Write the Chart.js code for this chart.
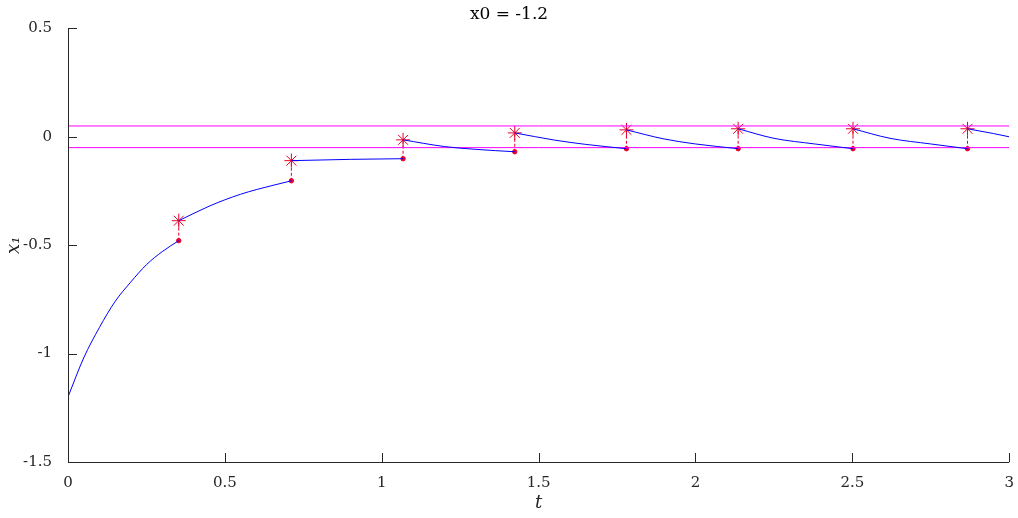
<!DOCTYPE html>
<html><head><meta charset="utf-8">
<script src="https://cdn.jsdelivr.net/npm/chart.js@4/dist/chart.umd.min.js"></script>
<style>html,body{margin:0;padding:0;background:#fff}#w{width:1018px;height:518px}</style>
</head><body><div id="w"><canvas id="c"></canvas></div>
<script>
const eventTimes = [0.353, 0.712, 1.068, 1.424, 1.780, 2.136, 2.502, 2.867];
const beforeJump = [-0.479, -0.203, -0.101, -0.069, -0.055, -0.055, -0.055, -0.055];
const afterJump  = [-0.387, -0.110, -0.014, 0.018, 0.032, 0.037, 0.037, 0.037];
const curveSegments = [
  [[0,-1.2],[0.05,-1.02],[0.1,-0.88],[0.15,-0.76],[0.2,-0.67],[0.25,-0.59],[0.3,-0.53],[0.353,-0.479]],
  [[0.353,-0.387],[0.45,-0.32],[0.55,-0.265],[0.65,-0.225],[0.712,-0.203]],
  [[0.712,-0.110],[0.9,-0.104],[1.068,-0.101]],
  [[1.068,-0.014],[1.2,-0.045],[1.3,-0.058],[1.424,-0.069]],
  [[1.424,0.018],[1.55,-0.015],[1.65,-0.035],[1.780,-0.055]],
  [[1.780,0.032],[1.9,-0.01],[2.0,-0.033],[2.136,-0.055]],
  [[2.136,0.037],[2.25,-0.007],[2.38,-0.033],[2.502,-0.055]],
  [[2.502,0.037],[2.62,-0.007],[2.75,-0.033],[2.867,-0.055]],
  [[2.867,0.037],[2.95,0.015],[3.0,0.0]]
];
const bandLevels = [0.05, -0.05];
const xTicks = [0,0.5,1,1.5,2,2.5,3];
const yTicks = [-1.5,-1,-0.5,0,0.5];

const curveData = [];
curveSegments.forEach(s => { s.forEach(p => curveData.push({x:p[0],y:p[1]})); curveData.push({x:s[s.length-1][0],y:null}); });
const stemData = [];
eventTimes.forEach((t,i)=>{ stemData.push({x:t,y:beforeJump[i]},{x:t,y:afterJump[i]},{x:t,y:null}); });

const F = "DejaVu Serif, Liberation Serif, serif";
const inwardTicks = {
  id:'inward',
  afterDraw(ch){
    const c=ch.ctx, a=ch.chartArea, xs=ch.scales.x, ys=ch.scales.y;
    c.save(); c.strokeStyle='#262626'; c.lineWidth=1;
    c.beginPath();
    c.moveTo(a.left+0.5,a.top); c.lineTo(a.left+0.5,a.bottom+0.5); c.lineTo(a.right,a.bottom+0.5);
    xTicks.forEach(v=>{const p=Math.round(xs.getPixelForValue(v))+0.5; c.moveTo(p,a.bottom); c.lineTo(p,a.bottom-9);});
    yTicks.forEach(v=>{const p=Math.round(ys.getPixelForValue(v))+0.5; c.moveTo(a.left,p); c.lineTo(a.left+9,p);});
    c.stroke(); c.restore();
  }
};

new Chart(document.getElementById('c'),{
  type:'line',
  data:{datasets:[
    {data:curveData,borderColor:'#0000ff',borderWidth:1,pointRadius:0,spanGaps:false,cubicInterpolationMode:'monotone'},
    ...bandLevels.map(v=>({data:[{x:0,y:v},{x:3,y:v}],borderColor:'#ff00ff',borderWidth:1,pointRadius:0})),
    {data:stemData,borderColor:'#e8002a',borderWidth:1,borderDash:[3,2],pointRadius:0,spanGaps:false},
    {data:eventTimes.map((t,i)=>({x:t,y:beforeJump[i]})),showLine:false,pointRadius:2.2,pointBackgroundColor:'#e8002a',pointBorderColor:'#e8002a'},
    {data:eventTimes.map((t,i)=>({x:t,y:afterJump[i]})),showLine:false,pointStyle:'star',pointRadius:7,borderWidth:1,pointBorderColor:'#e8002a',pointBackgroundColor:'#e8002a'}
  ]},
  options:{
    responsive:true,maintainAspectRatio:false,animation:false,
    layout:{padding:{right:0,left:0,top:0,bottom:0}},
    plugins:{legend:{display:false},tooltip:{enabled:false},
      title:{display:true,text:'x0 = -1.2',color:'#000',font:{family:F,size:17,weight:'normal'},padding:{top:4,bottom:4}}},
    scales:{
      x:{type:'linear',min:0,max:3,afterBuildTicks(s){s.ticks=xTicks.map(v=>({value:v}));},
        afterFit(s){s.height=56;},
        grid:{display:false},border:{display:false},
        ticks:{color:'#262626',font:{family:F,size:15},padding:4,maxRotation:0,callback:v=>String(v)},
        title:{display:true,text:'t',color:'#262626',font:{family:F,size:18,style:'italic'},padding:{top:0}}},
      y:{min:-1.5,max:0.5,afterBuildTicks(s){s.ticks=yTicks.map(v=>({value:v}));},
        afterFit(s){s.width=68;},
        grid:{display:false},border:{display:false},
        ticks:{color:'#262626',font:{family:F,size:15},padding:8,callback:v=>String(v)},
        title:{display:true,text:'x₁',color:'#262626',font:{family:F,size:18,style:'italic'},padding:{bottom:0}}}
    }
  },
  plugins:[inwardTicks]
});
</script></body></html>
